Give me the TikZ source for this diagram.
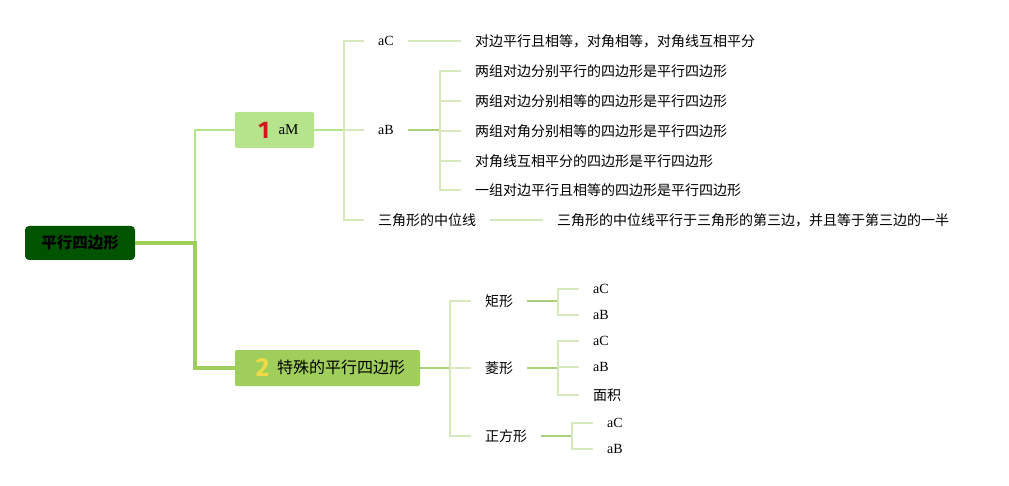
\documentclass[tikz,border=0pt]{standalone}
\usepackage{fontspec}
\usepackage{xcolor}
\usetikzlibrary{positioning}
\setmainfont{Liberation Serif}
\newfontfamily\cjk{Noto Sans CJK SC}
\newfontfamily\numfont{Fira Sans}
\definecolor{rootgreen}{RGB}{0,84,0}
\definecolor{topicone}{RGB}{181,228,140}
\definecolor{topictwo}{RGB}{160,206,90}
\definecolor{forkgreen}{RGB}{172,208,122}
\definecolor{palegreen}{RGB}{214,232,188}
\definecolor{numred}{RGB}{214,20,30}
\definecolor{numyellow}{RGB}{240,218,70}
\tikzset{
    root/.style={
        rectangle,
        fill=rootgreen,
        rounded corners=4pt,
        minimum width=110pt,
        minimum height=34pt,
        inner sep=0pt,
        font=\cjk\bfseries\fontsize{15.5}{18}\selectfont
    },
    topic/.style={
        rectangle,
        rounded corners=2pt,
        minimum height=36pt,
        inner sep=0pt
    },
    leaf/.style={
        anchor=west,
        inner xsep=14pt,
        inner ysep=2pt,
        font=\fontsize{14}{16}\selectfont
    },
    thickline/.style={line width=4pt,topictwo},
    oneline/.style={line width=2pt,topicone},
    forkline/.style={line width=1.8pt,forkgreen},
    stub/.style={line width=1.3pt,palegreen}
}
\begin{document}
\begin{tikzpicture}[x=1pt,y=-1pt]
\useasboundingbox (0,0) rectangle (1009,486);

\node[root] (pq) at (80,243) {平行四边形};
\node[topic,fill=topicone,minimum width=79pt] (t1) at (274.5,130)
    {\hspace{8pt}\raisebox{-4pt}{\numfont\bfseries\fontsize{24}{24}\selectfont\color{numred}1}\hspace{9pt}{\fontsize{15}{18}\selectfont aM}};
\node[topic,fill=topictwo,minimum width=185pt] (t2) at (327.5,368)
    {\hspace{6pt}\raisebox{-3pt}{\numfont\bfseries\fontsize{26}{26}\selectfont\color{numyellow}2}\hspace{8pt}{\cjk\fontsize{16}{18}\selectfont 特殊的平行四边形}};

% first topic
\node[leaf] (pc) at (364,41) {aC};
\node[leaf] (pb) at (364,130) {aB};
\node[leaf,font=\cjk\fontsize{14}{16}\selectfont] (mid) at (364,220) {三角形的中位线};
\node[leaf,font=\cjk\fontsize{14}{16}\selectfont] (pctext) at (461,41) {对边平行且相等，对角相等，对角线互相平分};
\node[leaf,font=\cjk\fontsize{14}{16}\selectfont] (pb1) at (461,71) {两组对边分别平行的四边形是平行四边形};
\node[leaf,font=\cjk\fontsize{14}{16}\selectfont] (pb2) at (461,101) {两组对边分别相等的四边形是平行四边形};
\node[leaf,font=\cjk\fontsize{14}{16}\selectfont] (pb3) at (461,131) {两组对角分别相等的四边形是平行四边形};
\node[leaf,font=\cjk\fontsize{14}{16}\selectfont] (pb4) at (461,161) {对角线互相平分的四边形是平行四边形};
\node[leaf,font=\cjk\fontsize{14}{16}\selectfont] (pb5) at (461,190) {一组对边平行且相等的四边形是平行四边形};
\node[leaf,font=\cjk\fontsize{14}{16}\selectfont] (midtext) at (543,220) {三角形的中位线平行于三角形的第三边，并且等于第三边的一半};

% second topic
\node[leaf,font=\cjk\fontsize{14}{16}\selectfont] (rect) at (471,301) {矩形};
\node[leaf,font=\cjk\fontsize{14}{16}\selectfont] (rhom) at (471,368) {菱形};
\node[leaf,font=\cjk\fontsize{14}{16}\selectfont] (sqr) at (471,436) {正方形};
\node[leaf] (rectc) at (579,289) {aC};
\node[leaf] (rectb) at (579,315) {aB};
\node[leaf] (rhomc) at (579,341) {aC};
\node[leaf] (rhomb) at (579,367) {aB};
\node[leaf,font=\cjk\fontsize{14}{16}\selectfont] (area) at (579,395) {面积};
\node[leaf] (sqrc) at (593,423) {aC};
\node[leaf] (sqrb) at (593,449) {aB};

\coordinate (f0) at (195,243);
\coordinate (f1) at (344,130);
\coordinate (f2) at (440,130);
\coordinate (f3) at (450,368);
\coordinate (f4) at (558,301);
\coordinate (f5) at (558,368);
\coordinate (f6) at (572,436);

\draw[oneline] (f0) |- (t1.west);
\draw[thickline] (pq.east) -- (f0) |- (t2.west);

\draw[oneline] (t1.east) -- (f1);
\draw[stub] (f1) |- (pc.west);
\draw[stub] (f1) -- (pb.west);
\draw[stub] (f1) |- (mid.west);
\draw[stub] (pc.east) -- (pctext.west);
\draw[forkline] (pb.east) -- (f2);
\draw[stub] (f2) |- (pb1.west);
\draw[stub] (f2) |- (pb2.west);
\draw[stub] (f2) |- (pb3.west);
\draw[stub] (f2) |- (pb4.west);
\draw[stub] (f2) |- (pb5.west);
\draw[stub] (mid.east) -- (midtext.west);

\draw[forkline] (t2.east) -- (f3);
\draw[stub] (f3) |- (rect.west);
\draw[stub] (f3) -- (rhom.west);
\draw[stub] (f3) |- (sqr.west);
\draw[forkline] (rect.east) -- (f4);
\draw[stub] (f4) |- (rectc.west);
\draw[stub] (f4) |- (rectb.west);
\draw[forkline] (rhom.east) -- (f5);
\draw[stub] (f5) |- (rhomc.west);
\draw[stub] (f5) |- (rhomb.west);
\draw[stub] (f5) |- (area.west);
\draw[forkline] (sqr.east) -- (f6);
\draw[stub] (f6) |- (sqrc.west);
\draw[stub] (f6) |- (sqrb.west);
\end{tikzpicture}
\end{document}
